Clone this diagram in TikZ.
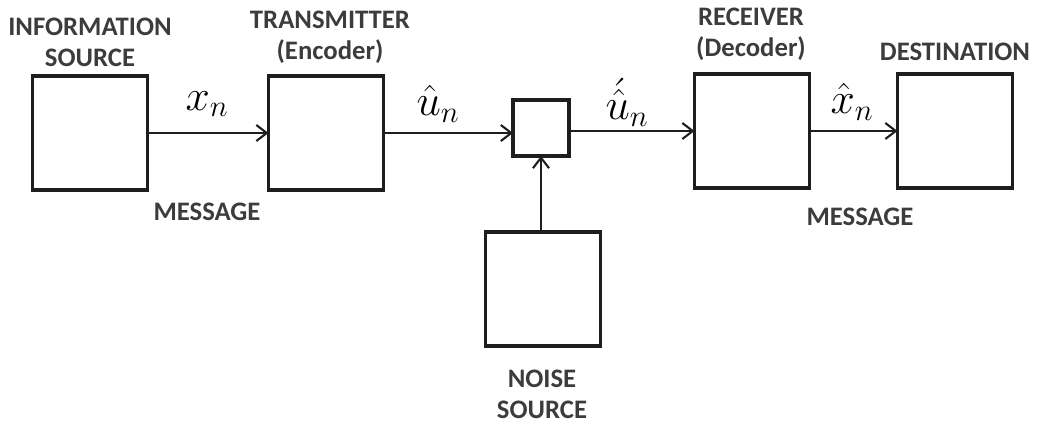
\documentclass[tikz,border=0pt]{standalone}
\usepackage{fix-cm}
\usepackage{fontspec}
\setmainfont{Carlito}
\usetikzlibrary{arrows.meta}
\definecolor{cLine}{HTML}{1E1E1E}
\definecolor{cText}{HTML}{3C3C3C}

\begin{document}
\begin{tikzpicture}[
    x=0.025cm, y=-0.025cm,
    blk/.style={draw=cLine, line width=2.7pt, minimum width=2.875cm,
                minimum height=2.85cm, inner sep=0pt, outer sep=0pt},
    chanblk/.style={blk, minimum width=1.4cm, minimum height=1.4cm},
    arr/.style={draw=cLine, line width=1.5pt,
                -{Straight Barb[length=2.6mm, width=4mm, line width=1.5pt]}},
    blkname/.style={font=\fontsize{19}{22}\selectfont\bfseries, text=cText,
                    align=center, inner sep=0pt},
    sym/.style={font=\fontsize{31}{34}\selectfont, inner sep=0pt},
]
\useasboundingbox (0,0) rectangle (1042,423);

% ===================== Bloques =====================
\node[blk] (src) at (90,133) {};
\node[blk] (tx) at (326,133) {};
\node[chanblk] (chan) at (541,128) {};
\node[blk] (rx) at (752,131) {};
\node[blk] (dst) at (955,131) {};
\node[blk] (noise) at (543,289) {};

% ===================== Nombres =====================
\node[blkname] (srcname) at (90,42) {INFORMATION\\SOURCE};
\node[blkname] (txname) at (330,37) {TRANSMITTER\\(Encoder)};
\node[blkname] (rxname) at (751,34) {RECEIVER\\(Decoder)};
\node[blkname] (dstname) at (955,52) {DESTINATION};
\node[blkname] (noisename) at (542,394) {NOISE\\SOURCE};
\node[blkname] (msgA) at (207,212) {MESSAGE};
\node[blkname] (msgB) at (860,217) {MESSAGE};

% ===================== Flechas =====================
\draw[arr] (src.east) -- (src.east -| tx.west);
\draw[arr] (tx.east) -- (tx.east -| chan.west);
\draw[arr] (chan.east |- rx.west) -- (rx.west);
\draw[arr] (rx.east) -- (dst.west);
\draw[arr] (noise.north -| chan.south) -- (chan.south);

% ===================== Etiquetas =====================
\node[sym] (xn) at (207,104) {$x_n$};
\node[sym] (un) at (438,104) {$\hat{u}_n$};
\node[sym] (unr) at (627,102) {$\acute{\hat{u}}_n$};
\node[sym] (xhat) at (852,102) {$\hat{x}_n$};

\end{tikzpicture}
\end{document}
